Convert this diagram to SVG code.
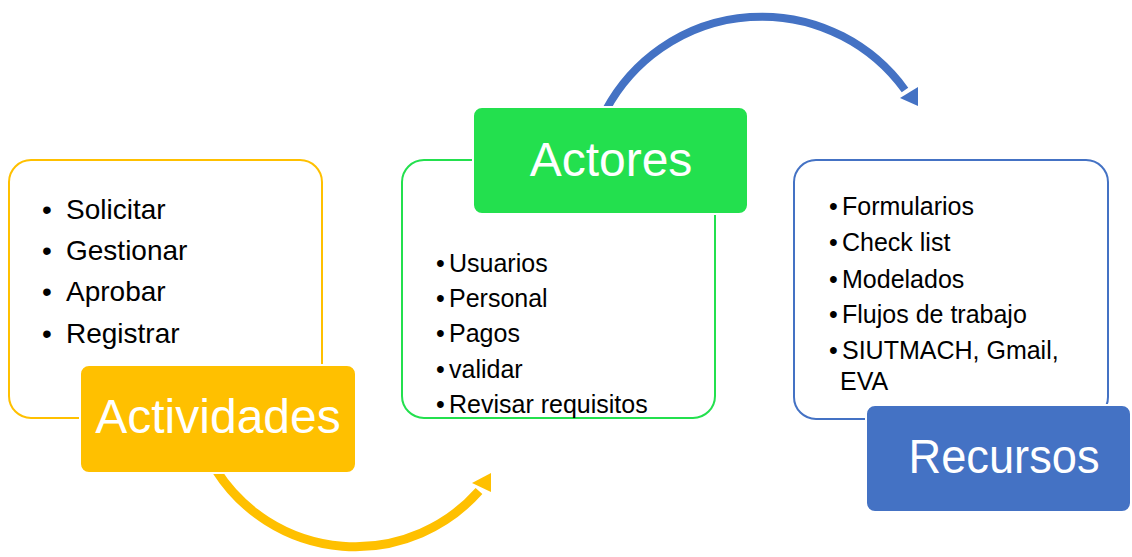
<svg xmlns="http://www.w3.org/2000/svg" width="1132" height="557" viewBox="0 0 1132 557">
<style>
text{font-family:"Liberation Sans",Arial,sans-serif;}
.title{fill:#fff;font-size:48px;text-anchor:middle;}
.item{fill:#000;font-size:25px;}
.itemL{fill:#000;font-size:28px;}
.outline{fill:#fff;stroke-width:2;}
.head{stroke:#fff;stroke-width:2;}
</style>
<g id="connectors">
<path d="M 216 470 A 165 165 0 0 0 479 491" fill="none" stroke="#FFC000" stroke-width="9"/>
<polygon points="491,473 472,483 491,492" fill="#FFC000"/>
<path d="M 606 110 A 176.6 176.6 0 0 1 905 90" fill="none" stroke="#4472C4" stroke-width="8"/>
<polygon points="918,106 900,98 918,87" fill="#4472C4"/>
</g>
<g id="actividades">
<rect class="outline" x="9" y="160" width="313" height="258" rx="22" stroke="#FFC000"/>
<text class="itemL" x="42" y="219">•<tspan x="66">Solicitar</tspan></text>
<text class="itemL" x="42" y="260">•<tspan x="66">Gestionar</tspan></text>
<text class="itemL" x="42" y="301">•<tspan x="66">Aprobar</tspan></text>
<text class="itemL" x="42" y="343">•<tspan x="66">Registrar</tspan></text>
<rect class="head" x="80" y="365" width="276" height="108" rx="9" fill="#FFC000"/>
<text class="title" x="218" y="433">Actividades</text>
</g>
<g id="actores">
<rect class="outline" x="402" y="160" width="313" height="258" rx="22" stroke="#23E04E"/>
<text class="item" x="436" y="272">•<tspan x="449">Usuarios</tspan></text>
<text class="item" x="436" y="307">•<tspan x="449">Personal</tspan></text>
<text class="item" x="436" y="342">•<tspan x="449">Pagos</tspan></text>
<text class="item" x="436" y="378">•<tspan x="449">validar</tspan></text>
<text class="item" x="436" y="413">•<tspan x="449">Revisar requisitos</tspan></text>
<rect class="head" x="473" y="107" width="275" height="107" rx="9" fill="#23E04E"/>
<text class="title" x="611" y="176">Actores</text>
</g>
<g id="recursos">
<rect class="outline" x="794" y="160" width="314" height="259" rx="22" stroke="#4472C4"/>
<text class="item" x="829" y="215">•<tspan x="842">Formularios</tspan></text>
<text class="item" x="829" y="251">•<tspan x="842">Check list</tspan></text>
<text class="item" x="829" y="288">•<tspan x="842">Modelados</tspan></text>
<text class="item" x="829" y="323">•<tspan x="842">Flujos de trabajo</tspan></text>
<text class="item" x="829" y="359">•<tspan x="842">SIUTMACH, Gmail,</tspan></text>
<text class="item" x="840" y="390">EVA</text>
<rect class="head" x="866" y="405" width="265" height="107" rx="9" fill="#4472C4"/>
<text class="title" x="1004" y="473" textLength="191" lengthAdjust="spacingAndGlyphs">Recursos</text>
</g>
</svg>
